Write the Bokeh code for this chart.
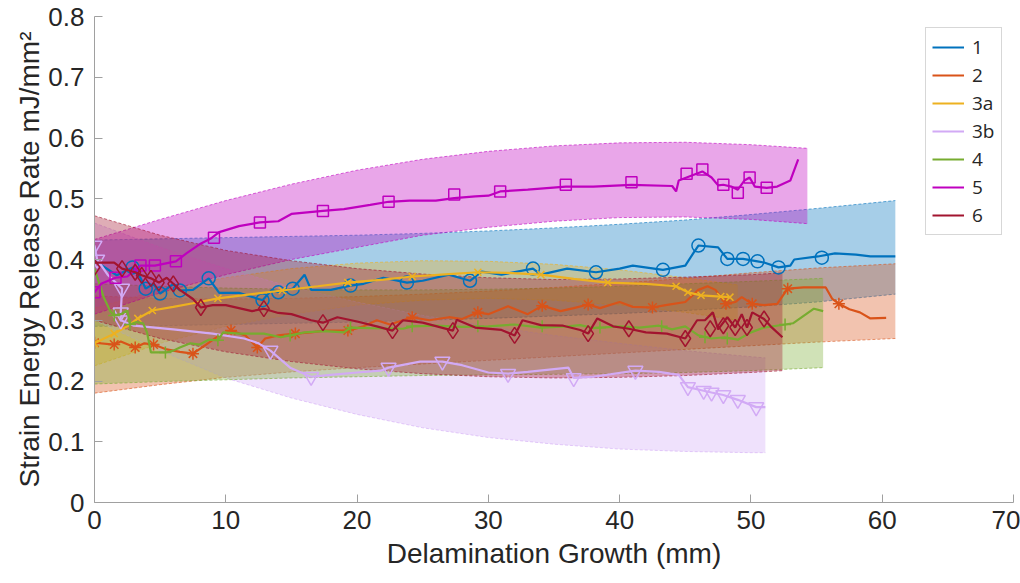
from bokeh.plotting import figure
from bokeh.models import Legend, LegendItem, FixedTicker, CustomJSTickFormatter
from bokeh.embed import file_html
from bokeh.resources import INLINE

# ---------------- data ----------------
series_names = ["1", "2", "3a", "3b", "4", "5", "6"]
colors = ["#0072BD", "#D95319", "#EDB120", "#D2AAF5", "#77AC30", "#BF00BF", "#A2142F"]

# series 1
x1 = [0, 1.7, 2.9, 3.5, 3.9, 4.5, 5.0, 6.0, 6.5, 7.5, 8.7, 9.5, 11, 12.8, 13.5, 14.0, 15.1, 16.0, 16.5, 18,
      19.5, 20.5, 22, 23.8, 25, 27, 28.6, 29.5, 31, 33.4, 34, 36, 38.2, 40, 41, 43.3, 45, 45.6, 46.0, 47.5,
      48.2, 49.4, 50.5, 51, 52.1, 53, 53.3, 55.1, 56.4, 58, 59.1, 61]
y1 = [0.398, 0.374, 0.387, 0.37, 0.352, 0.36, 0.344, 0.36, 0.349, 0.35, 0.369, 0.345, 0.345, 0.333, 0.35, 0.346,
      0.352, 0.375, 0.35, 0.35, 0.357, 0.36, 0.37, 0.362, 0.365, 0.375, 0.365, 0.38, 0.375, 0.385, 0.375, 0.385,
      0.379, 0.385, 0.39, 0.383, 0.39, 0.41, 0.423, 0.42, 0.401, 0.401, 0.397, 0.395, 0.387, 0.39, 0.4, 0.405,
      0.41, 0.408, 0.405, 0.405]
mx1 = [2.9, 3.9, 5.0, 6.5, 8.7, 12.8, 14.0, 15.1, 19.5, 23.8, 28.6, 33.4, 38.2, 43.3, 46.0, 48.2, 49.4, 50.5, 52.1, 55.4]
my1 = [0.387, 0.352, 0.344, 0.349, 0.369, 0.333, 0.346, 0.352, 0.357, 0.362, 0.365, 0.385, 0.379, 0.383, 0.423,
       0.401, 0.401, 0.397, 0.387, 0.403]

# series 2
x2 = [0, 1.5, 2, 3.1, 3.8, 4.5, 5.5, 6.5, 7.5, 8.5, 9.5, 10.4, 11.5, 12.4, 13, 14, 15.3, 16.5, 17.5, 19.3, 20.5,
      21.5, 22.5, 24.2, 25.5, 27, 28, 29.2, 30, 31.5, 33, 34.1, 35.5, 36.5, 37.6, 38.5, 40, 41, 42.5, 43.5, 45, 46,
      46.7, 47.3, 48.1, 48.8, 49.3, 50.1, 51, 52, 52.8, 54, 55.7, 56.2, 56.7, 57.5, 58.3, 59.1, 60.3]
y2 = [0.263, 0.26, 0.265, 0.255, 0.262, 0.26, 0.252, 0.248, 0.245, 0.26, 0.275, 0.283, 0.275, 0.255, 0.27, 0.275,
      0.278, 0.28, 0.283, 0.283, 0.29, 0.3, 0.293, 0.305, 0.3, 0.305, 0.302, 0.313, 0.31, 0.323, 0.31, 0.324, 0.315,
      0.32, 0.326, 0.32, 0.33, 0.322, 0.321, 0.325, 0.33, 0.35, 0.356, 0.35, 0.327, 0.33, 0.338, 0.327, 0.325, 0.327,
      0.352, 0.354, 0.354, 0.335, 0.327, 0.318, 0.313, 0.303, 0.304]
mx2 = [0, 1.5, 3.1, 4.5, 7.5, 10.4, 12.4, 15.3, 19.3, 24.2, 29.2, 34.1, 37.6, 42.5, 48.1, 50.1, 52.8, 56.7]
my2 = [0.263, 0.26, 0.255, 0.26, 0.245, 0.283, 0.255, 0.278, 0.283, 0.305, 0.313, 0.324, 0.326, 0.321, 0.327,
       0.327, 0.352, 0.327]

# series 3a
x3a = [0, 1.5, 2.5, 3.3, 4.4, 6, 7.5, 9.4, 12, 14.3, 17, 19.3, 22, 24.2, 27, 29.2, 31.5, 34, 36.5, 39.1, 42, 44.3,
       45.2, 46.2, 47.7, 48.4]
y3a = [0.262, 0.278, 0.29, 0.303, 0.316, 0.322, 0.328, 0.336, 0.343, 0.349, 0.356, 0.362, 0.367, 0.372, 0.376,
       0.379, 0.378, 0.375, 0.368, 0.362, 0.36, 0.356, 0.346, 0.341, 0.339, 0.338]
mx3a = [0, 1.5, 3.3, 4.4, 9.4, 14.3, 19.3, 24.2, 29.2, 34, 39.1, 44.3, 45.2, 46.2, 47.7, 48.4]
my3a = [0.262, 0.278, 0.303, 0.316, 0.336, 0.349, 0.362, 0.372, 0.379, 0.375, 0.362, 0.356, 0.346, 0.341, 0.339,
        0.338]

# series 3b
x3b = [0, 0.2, 1.0, 2.1, 2.0, 2.0, 3.0, 6, 9, 11.4, 12.5, 13.4, 14.9, 16.5, 18, 20, 21.8, 22.4, 24.8, 26.5, 28,
       30, 31.5, 33, 36.1, 36.5, 38, 41.2, 43, 44.5, 45.2, 46.4, 47.0, 47.9, 49.0, 50.4, 51.1]
y3b = [0.423, 0.40, 0.375, 0.352, 0.313, 0.30, 0.291, 0.285, 0.278, 0.27, 0.262, 0.25, 0.222, 0.207, 0.21, 0.214,
       0.217, 0.222, 0.232, 0.232, 0.226, 0.214, 0.212, 0.215, 0.222, 0.205, 0.207, 0.217, 0.215, 0.21, 0.19,
       0.184, 0.181, 0.177, 0.169, 0.157, 0.157]
mx3b = [0, 0.2, 2.1, 2.0, 2.0, 13.4, 16.5, 22.4, 26.5, 31.5, 36.5, 41.2, 45.2, 46.4, 47.0, 47.9, 49.0, 50.4]
my3b = [0.423, 0.40, 0.352, 0.313, 0.30, 0.25, 0.207, 0.222, 0.232, 0.212, 0.205, 0.217, 0.19, 0.184, 0.181,
        0.177, 0.169, 0.157]

# series 4
x4 = [0, 0.7, 1.2, 1.5, 2.0, 2.5, 2.7, 3.2, 3.7, 4.0, 4.3, 5.4, 6, 6.5, 7.3, 8, 8.7, 9.4, 9.8, 11, 12.9, 14.2,
      14.9, 16, 17.5, 19, 19.5, 21, 23.5, 24.2, 26, 28, 30, 32, 34, 36, 37, 38, 40, 41.5, 43, 44, 45, 46, 47, 48,
      49, 50, 51, 52.6, 53.2, 54.8, 55.5]
y4 = [0.385, 0.338, 0.315, 0.308, 0.31, 0.316, 0.293, 0.297, 0.295, 0.28, 0.247, 0.247, 0.25, 0.255, 0.262, 0.26,
      0.268, 0.267, 0.28, 0.278, 0.278, 0.272, 0.275, 0.28, 0.282, 0.28, 0.288, 0.287, 0.286, 0.29, 0.291, 0.289,
      0.29, 0.293, 0.288, 0.29, 0.292, 0.287, 0.29, 0.288, 0.291, 0.285, 0.29, 0.275, 0.27, 0.272, 0.268, 0.28,
      0.288, 0.293, 0.295, 0.319, 0.315]
mx4 = [1.5, 2.7, 5.4, 9.4, 14.9, 19.5, 24.2, 29.2, 34.1, 38.5, 43.2, 46.5, 48.2, 52.6]
my4 = [0.308, 0.293, 0.247, 0.267, 0.275, 0.288, 0.29, 0.29, 0.29, 0.288, 0.29, 0.272, 0.27, 0.293]

# series 5
x5 = [0, 0.5, 1.6, 2.5, 3.5, 4.6, 6.2, 7, 8, 8.9, 9.5, 11, 12.6, 14, 15, 17.4, 19, 21, 22.4, 24, 26, 27.4, 29,
      30, 30.9, 33, 35.9, 38, 40.9, 44, 44.3, 44.5, 45.1, 46.3, 47, 47.5, 47.9, 48.5, 49, 49.5, 49.9, 50.3, 51.2,
      52, 53, 53.6]
y5 = [0.346, 0.36, 0.37, 0.372, 0.39, 0.39, 0.397, 0.41, 0.425, 0.435, 0.445, 0.455, 0.461, 0.463, 0.475, 0.48,
      0.483, 0.49, 0.495, 0.497, 0.497, 0.501, 0.504, 0.505, 0.512, 0.515, 0.52, 0.52, 0.523, 0.521, 0.512, 0.53,
      0.535, 0.545, 0.535, 0.522, 0.523, 0.52, 0.515, 0.53, 0.535, 0.52, 0.518, 0.52, 0.53, 0.565]
mx5 = [0, 1.6, 3.5, 4.6, 6.2, 9.1, 12.6, 17.4, 22.4, 27.4, 30.9, 35.9, 40.9, 45.1, 46.3, 47.9, 49.0, 49.9, 51.2]
my5 = [0.346, 0.37, 0.39, 0.39, 0.397, 0.436, 0.461, 0.48, 0.495, 0.507, 0.512, 0.523, 0.527, 0.541, 0.548, 0.523,
       0.51, 0.535, 0.518]

# series 6
x6 = [0, 1.5, 2.1, 3.1, 3.6, 4.3, 4.9, 5.5, 6.0, 6.5, 7.5, 8.1, 9, 10, 12, 12.9, 14, 15, 16.5, 17.4, 18.5, 20,
      21.5, 22.7, 23.5, 25, 27.3, 27.6, 29, 31, 32.0, 32.6, 34, 35.7, 37, 37.6, 38.3, 39.5, 40.7, 42, 43.6, 45.0,
      45.9, 46.5, 47.1, 47.5, 48.2, 48.8, 49.3, 49.7, 50.1, 51.0, 51.5, 52.4]
y6 = [0.395, 0.395, 0.385, 0.379, 0.374, 0.369, 0.362, 0.37, 0.36, 0.35, 0.335, 0.321, 0.325, 0.325, 0.315, 0.319,
      0.312, 0.31, 0.30, 0.296, 0.305, 0.298, 0.29, 0.283, 0.30, 0.296, 0.283, 0.301, 0.288, 0.284, 0.275, 0.30,
      0.292, 0.291, 0.284, 0.278, 0.303, 0.29, 0.286, 0.28, 0.278, 0.27, 0.30, 0.30, 0.313, 0.285, 0.305, 0.288,
      0.31, 0.288, 0.313, 0.302, 0.29, 0.272]
mx6 = [0, 2.1, 3.1, 3.6, 4.3, 4.9, 6.0, 8.1, 12.9, 17.4, 22.7, 27.3, 32.0, 37.6, 40.7, 45.0, 46.9, 47.9, 48.8,
       49.7, 51.0]
my6 = [0.387, 0.385, 0.379, 0.374, 0.369, 0.362, 0.36, 0.321, 0.319, 0.296, 0.283, 0.283, 0.275, 0.278, 0.286,
       0.27, 0.286, 0.291, 0.288, 0.288, 0.302]

# confidence bands (x, lower, upper)
bx1 = [0, 5, 10, 15, 20, 25, 30, 35, 40, 45, 50, 55, 61]
bl1 = [0.29, 0.291, 0.293, 0.295, 0.297, 0.30, 0.303, 0.307, 0.311, 0.316, 0.322, 0.33, 0.343]
bu1 = [0.432, 0.434, 0.436, 0.438, 0.44, 0.443, 0.447, 0.452, 0.458, 0.465, 0.474, 0.484, 0.497]

bx2 = [0, 5, 10, 15, 20, 25, 30, 35, 40, 45, 50, 55, 61]
bl2 = [0.18, 0.194, 0.206, 0.215, 0.222, 0.228, 0.234, 0.24, 0.246, 0.252, 0.258, 0.264, 0.27]
bu2 = [0.34, 0.336, 0.335, 0.336, 0.339, 0.343, 0.348, 0.354, 0.361, 0.369, 0.378, 0.386, 0.393]

bx3a = [0, 5, 10, 15, 20, 25, 30, 35, 40, 45, 49]
bl3a = [0.225, 0.262, 0.29, 0.31, 0.325, 0.333, 0.336, 0.333, 0.325, 0.313, 0.30]
bu3a = [0.32, 0.35, 0.37, 0.385, 0.394, 0.398, 0.397, 0.392, 0.383, 0.37, 0.358]

bx3b = [0, 5, 10, 15, 20, 25, 30, 35, 40, 45, 50, 51.1]
bl3b = [0.30, 0.25, 0.205, 0.172, 0.145, 0.123, 0.107, 0.096, 0.088, 0.084, 0.082, 0.082]
bu3b = [0.46, 0.42, 0.385, 0.355, 0.33, 0.308, 0.29, 0.275, 0.262, 0.25, 0.24, 0.238]

bx4 = [0, 5, 10, 15, 20, 25, 30, 35, 40, 45, 50, 55.5]
bl4 = [0.195, 0.199, 0.202, 0.205, 0.207, 0.209, 0.21, 0.211, 0.212, 0.214, 0.217, 0.222]
bu4 = [0.36, 0.356, 0.353, 0.351, 0.35, 0.35, 0.351, 0.353, 0.356, 0.36, 0.364, 0.369]

bx5 = [0, 5, 10, 15, 20, 25, 30, 35, 40, 45, 50, 54.3]
bl5 = [0.31, 0.345, 0.375, 0.40, 0.42, 0.44, 0.453, 0.463, 0.469, 0.47, 0.466, 0.459]
bu5 = [0.433, 0.466, 0.497, 0.524, 0.547, 0.565, 0.578, 0.587, 0.592, 0.593, 0.589, 0.583]

bx6 = [0, 5, 10, 15, 20, 25, 30, 35, 40, 45, 50, 52.4]
bl6 = [0.30, 0.27, 0.248, 0.232, 0.22, 0.212, 0.207, 0.205, 0.206, 0.209, 0.214, 0.217]
bu6 = [0.472, 0.44, 0.415, 0.398, 0.385, 0.376, 0.37, 0.367, 0.368, 0.371, 0.375, 0.378]

x_ticks = [0, 10, 20, 30, 40, 50, 60, 70]
y_ticks = [0, 0.1, 0.2, 0.3, 0.4, 0.5, 0.6, 0.7, 0.8]

lines = [(x1, y1), (x2, y2), (x3a, y3a), (x3b, y3b), (x4, y4), (x5, y5), (x6, y6)]
marks = [(mx1, my1), (mx2, my2), (mx3a, my3a), (mx3b, my3b), (mx4, my4), (mx5, my5), (mx6, my6)]
bands = [(bx1, bl1, bu1), (bx2, bl2, bu2), (bx3a, bl3a, bu3a), (bx3b, bl3b, bu3b), (bx4, bl4, bu4),
         (bx5, bl5, bu5), (bx6, bl6, bu6)]
marker_types = ["circle", "asterisk", "x", "inverted_triangle", "cross", "square", "diamond"]
marker_sizes = [13, 12, 10, 15, 12, 11, 16]

# ---------------- figure ----------------
TEXT = "#262626"
p = figure(width=1020, height=583, x_range=(0, 70), y_range=(0, 0.8),
           output_backend="svg", toolbar_location=None,
           min_border_left=94, min_border_right=7, min_border_top=16, min_border_bottom=81)
p.outline_line_color = None
p.xgrid.visible = False
p.ygrid.visible = False

for (bx, bl, bu), c in zip(bands, colors):
    p.varea(x=bx, y1=bl, y2=bu, fill_color=c, fill_alpha=0.35)
    p.line(bx, bl, line_color=c, line_alpha=0.6, line_width=1, line_dash="3 2")
    p.line(bx, bu, line_color=c, line_alpha=0.6, line_width=1, line_dash="3 2")

items = []
for name, (lx, ly), (mx, my), c, mt, ms in zip(series_names, lines, marks, colors, marker_types, marker_sizes):
    r = p.line(lx, ly, line_color=c, line_width=2.2)
    p.scatter(mx, my, marker=mt, size=ms, fill_color=None, line_color=c, line_width=1.5)
    items.append(LegendItem(label=name, renderers=[r]))

legend = Legend(items=items, location=(831, 267))
legend.label_text_font = "Open Sans"
legend.label_text_font_size = "19px"
legend.label_text_color = TEXT
legend.border_line_color = "#b0b0b0"
legend.border_line_width = 1
legend.background_fill_color = "white"
legend.background_fill_alpha = 1
legend.padding = 6
legend.spacing = 2
legend.label_height = 20
legend.glyph_height = 20
legend.glyph_width = 32
legend.label_standoff = 8
legend.margin = 0
p.add_layout(legend)

for ax in (p.xaxis[0], p.yaxis[0]):
    ax.axis_line_color = "#a0a0a0"
    ax.major_tick_line_color = "#a0a0a0"
    ax.major_tick_out = 0
    ax.major_tick_in = 8
    ax.minor_tick_line_color = None
    ax.major_label_text_font = "Liberation Sans"
    ax.major_label_text_font_size = "26px"
    ax.major_label_text_color = TEXT
    ax.axis_label_text_font = "Liberation Sans"
    ax.axis_label_text_font_size = "28px"
    ax.axis_label_text_font_style = "normal"
    ax.axis_label_text_color = TEXT

p.xaxis[0].ticker = FixedTicker(ticks=x_ticks)
p.yaxis[0].ticker = FixedTicker(ticks=y_ticks)
p.yaxis[0].formatter = CustomJSTickFormatter(code="return tick == 0 ? '0' : tick.toFixed(1);")
p.xaxis[0].axis_label = "Delamination Growth (mm)"
p.yaxis[0].axis_label = "Strain Energy Release Rate mJ/mm\u00b2"
p.xaxis[0].major_label_standoff = 8
p.yaxis[0].major_label_standoff = 10
p.xaxis[0].axis_label_standoff = 6
p.yaxis[0].axis_label_standoff = 0

open("out.html", "w").write(file_html(p, INLINE))
